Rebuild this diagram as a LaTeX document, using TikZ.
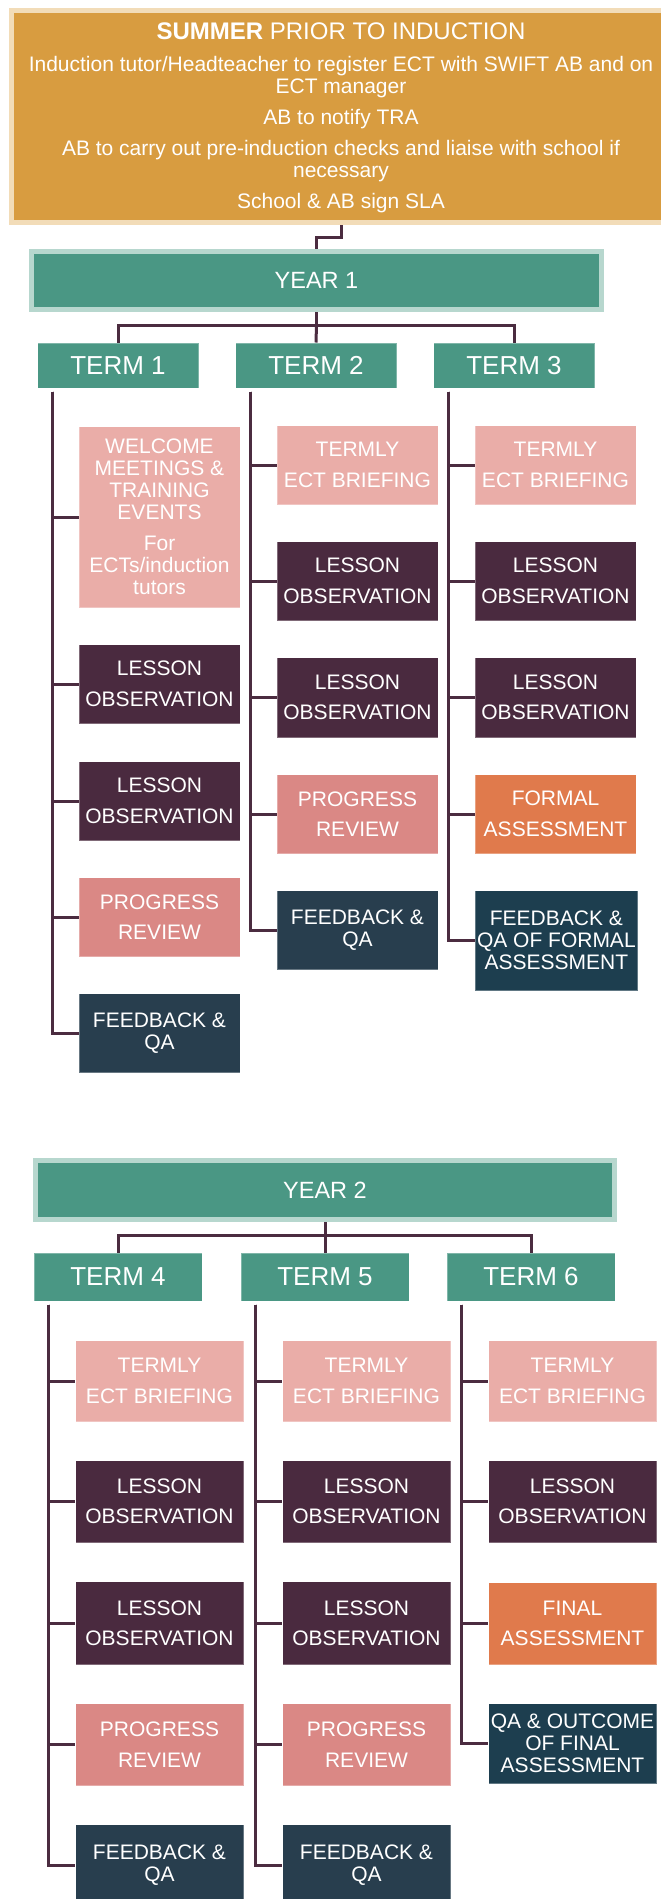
\documentclass[tikz,border=0pt]{standalone}
\usepackage{fontspec}
\setmainfont{Liberation Sans}
\usepackage{tikz}
\usetikzlibrary{calc}
\newcommand{\termtask}[6]{
	\pgfmathsetmacro{\taskh}{#4 - #3} % height of the box
	\node[task, fill=#5, minimum height=\taskh pt, anchor=north west, xshift=41.5pt] (#1) at (#2.south west |- 0,#3) {#6};
	% branch from the term trunk to the box
	\draw[branch] ([xshift=15pt,yshift=-3pt]#2.south west) |- (#1.west);
}
\definecolor{summerfill}{RGB}{216,156,64}
\definecolor{summerrim}{RGB}{242,220,184}
\definecolor{yeargreen}{RGB}{74,151,132}
\definecolor{yearrim}{RGB}{183,215,206}
\definecolor{briefing}{RGB}{234,173,168}
\definecolor{lesson}{RGB}{74,42,63}
\definecolor{progress}{RGB}{218,136,133}
\definecolor{feedback}{RGB}{40,62,78}
\definecolor{qaformal}{RGB}{29,62,79}
\definecolor{formal}{RGB}{224,122,76}
\definecolor{branchcol}{RGB}{75,44,64}

\begin{document}
\begin{tikzpicture}[x=1pt,y=-1pt,
	year/.style={fill=yeargreen, draw=yearrim, line width=5pt, text=white, font=\fontsize{23.5}{24}\selectfont},
	term/.style={fill=yeargreen, draw=white, draw opacity=.3, line width=1pt, text=white, minimum width=161pt, minimum height=45pt, font=\fontsize{26}{26}\selectfont},
	task/.style={text=white, align=center, inner sep=2pt, draw=white, draw opacity=.3, line width=1pt, minimum width=161pt, font=\fontsize{21}{22}\selectfont},
	branch/.style={draw=branchcol, line width=3pt}]
	\useasboundingbox (0,0) rectangle (661,1899);
	\clip (0,0) rectangle (661,1899);
	
	% the summer box on top
	\node[fill=summerfill, draw=summerrim, line width=5pt, minimum width=660pt, minimum height=212.5pt, inner sep=0pt] (summer) at (341,116.25) {};
	\node[anchor=north, inner sep=0pt, text=white, align=center, font=\fontsize{21}{22}\selectfont] (summertext) at (341,22.8)
		{{\fontsize{24}{22}\selectfont\textbf{SUMMER} PRIOR TO INDUCTION}\\[10pt]
		Induction tutor/Headteacher to register ECT with SWIFT AB and on\\
		ECT manager\\[9pt]
		AB to notify TRA\\[9pt]
		AB to carry out pre-induction checks and liaise with school if\\
		necessary\\[9pt]
		School \& AB sign SLA};
	
	% year 1 and its terms
	\node[year, minimum width=570pt, minimum height=58pt] (y1) at (316.5,280.5) {YEAR 1};
	\draw[branch] (summer.south) -- ++(0,12) -| (y1.north);
	\foreach[count=\i] \x in {118,316,514}
		\node[term] (t\i) at (\x,365.5) {TERM \i};
	\draw[branch] (y1.south) -- ++(0,13) coordinate (y1bar);
	\draw[branch] (t1.north) |- (y1bar) -| (t3.north);
	\draw[branch] (y1bar) -- (t2.north);
	
	\termtask{w1}{t1}{426}{607}{briefing}{WELCOME\\MEETINGS \&\\TRAINING\\EVENTS\\[9pt]For\\ECTs/induction\\tutors}
	\termtask{l1a}{t1}{644}{723}{lesson}{LESSON\\[8.5pt]OBSERVATION}
	\termtask{l1b}{t1}{761}{840}{lesson}{LESSON\\[8.5pt]OBSERVATION}
	\termtask{p1}{t1}{877}{956}{progress}{PROGRESS\\[8.5pt]REVIEW}
	\termtask{f1}{t1}{993}{1072}{feedback}{FEEDBACK \&\\QA}
	
	\termtask{b2}{t2}{425}{504}{briefing}{TERMLY\\[8.5pt]ECT BRIEFING}
	\termtask{l2a}{t2}{541}{620}{lesson}{LESSON\\[8.5pt]OBSERVATION}
	\termtask{l2b}{t2}{657}{737}{lesson}{LESSON\\[8.5pt]OBSERVATION}
	\termtask{p2}{t2}{774}{853}{progress}{PROGRESS\\[8.5pt]REVIEW}
	\termtask{f2}{t2}{890}{969}{feedback}{FEEDBACK \&\\QA}
	
	\termtask{b3}{t3}{425}{504}{briefing}{TERMLY\\[8.5pt]ECT BRIEFING}
	\termtask{l3a}{t3}{541}{620}{lesson}{LESSON\\[8.5pt]OBSERVATION}
	\termtask{l3b}{t3}{657}{737}{lesson}{LESSON\\[8.5pt]OBSERVATION}
	\termtask{a3}{t3}{774}{853}{formal}{FORMAL\\[8.5pt]ASSESSMENT}
	\termtask{f3}{t3}{890}{990}{qaformal}{FEEDBACK \&\\QA OF FORMAL\\ASSESSMENT}
	
	% year 2 and its terms
	\begin{scope}[task/.append style={minimum width=168pt}, term/.append style={minimum width=168pt, minimum height=48pt}]
	\node[year, minimum width=579pt, minimum height=59pt] (y2) at (325,1190) {YEAR 2};
	\foreach[count=\i from 4] \x in {118,325,531}
		\node[term] (t\i) at (\x,1277) {TERM \i};
	\draw[branch] (y2.south) -- ++(0,13) coordinate (y2bar);
	\draw[branch] (t4.north) |- (y2bar) -| (t6.north);
	\draw[branch] (y2bar) -- (t5.north);
	
	\termtask{b4}{t4}{1340}{1421}{briefing}{TERMLY\\[8.5pt]ECT BRIEFING}
	\termtask{l4a}{t4}{1460}{1542}{lesson}{LESSON\\[8.5pt]OBSERVATION}
	\termtask{l4b}{t4}{1581}{1664}{lesson}{LESSON\\[8.5pt]OBSERVATION}
	\termtask{p4}{t4}{1703}{1785}{progress}{PROGRESS\\[8.5pt]REVIEW}
	\termtask{f4}{t4}{1824}{1906}{feedback}{FEEDBACK \&\\QA}
	
	\termtask{b5}{t5}{1340}{1421}{briefing}{TERMLY\\[8.5pt]ECT BRIEFING}
	\termtask{l5a}{t5}{1460}{1542}{lesson}{LESSON\\[8.5pt]OBSERVATION}
	\termtask{l5b}{t5}{1581}{1664}{lesson}{LESSON\\[8.5pt]OBSERVATION}
	\termtask{p5}{t5}{1703}{1785}{progress}{PROGRESS\\[8.5pt]REVIEW}
	\termtask{f5}{t5}{1824}{1906}{feedback}{FEEDBACK \&\\QA}
	
	\termtask{b6}{t6}{1340}{1421}{briefing}{TERMLY\\[8.5pt]ECT BRIEFING}
	\termtask{l6}{t6}{1460}{1542}{lesson}{LESSON\\[8.5pt]OBSERVATION}
	\termtask{a6}{t6}{1582}{1664}{formal}{FINAL\\[8.5pt]ASSESSMENT}
	\termtask{q6}{t6}{1703}{1783}{qaformal}{QA \& OUTCOME\\OF FINAL\\ASSESSMENT}
	\end{scope}
\end{tikzpicture}
\end{document}
